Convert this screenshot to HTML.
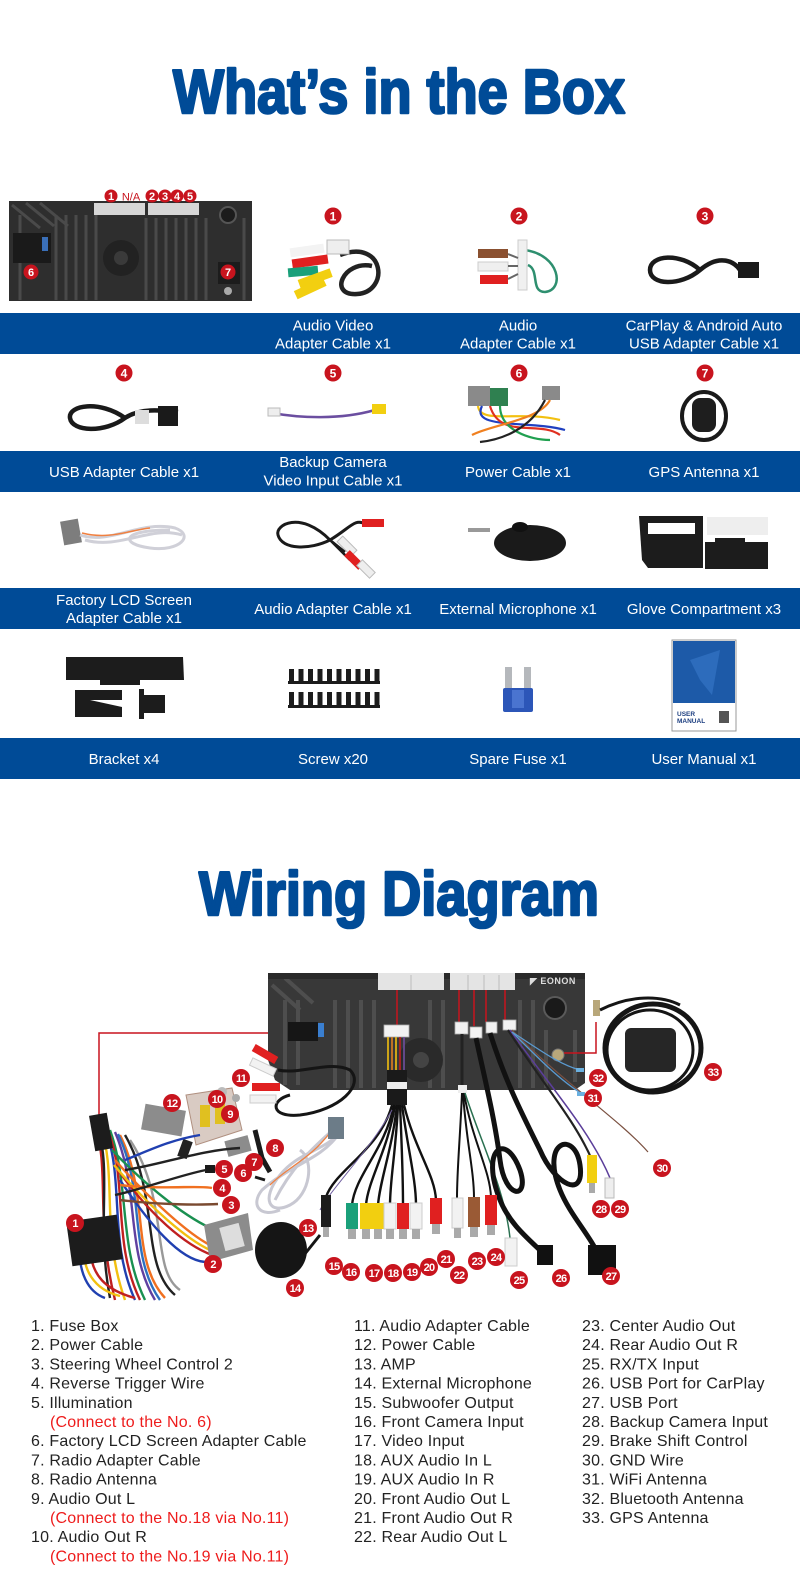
<!DOCTYPE html>
<html><head><meta charset="utf-8">
<style>
html,body{margin:0;padding:0;background:#fff;}
body{width:800px;height:1596px;overflow:hidden;}
svg{display:block;}
.t{font-family:"Liberation Sans",Arial,sans-serif;}
</style></head>
<body>
<svg width="800" height="1596" viewBox="0 0 800 1596" xmlns="http://www.w3.org/2000/svg" class="t">
<rect width="800" height="1596" fill="#fff"/>

<!-- ===== TITLES ===== -->
<text x="399" y="113" text-anchor="middle" font-size="62" font-weight="bold" fill="#004b97" stroke="#004b97" stroke-width="2.6" stroke-linejoin="round" textLength="452" lengthAdjust="spacingAndGlyphs">What’s in the Box</text>
<text x="399" y="915" text-anchor="middle" font-size="62" font-weight="bold" fill="#004b97" stroke="#004b97" stroke-width="2.6" stroke-linejoin="round" textLength="400" lengthAdjust="spacingAndGlyphs">Wiring Diagram</text>

<!-- ===== BLUE BANDS ===== -->
<g fill="#004b97">
<rect x="0" y="313" width="800" height="41"/>
<rect x="0" y="451" width="800" height="41"/>
<rect x="0" y="588" width="800" height="41"/>
<rect x="0" y="738" width="800" height="41"/>
</g>
<g fill="#fff" font-size="15" text-anchor="middle">
<text x="333" y="330.5">Audio Video</text>
<text x="333" y="348.5">Adapter Cable x1</text>
<text x="518" y="330.5">Audio</text>
<text x="518" y="348.5">Adapter Cable x1</text>
<text x="704" y="330.5">CarPlay &amp; Android Auto</text>
<text x="704" y="348.5">USB Adapter Cable x1</text>

<text x="124" y="477">USB Adapter Cable x1</text>
<text x="333" y="467">Backup Camera</text>
<text x="333" y="485.5">Video Input Cable x1</text>
<text x="518" y="477">Power Cable x1</text>
<text x="704" y="477">GPS Antenna x1</text>

<text x="124" y="605">Factory LCD Screen</text>
<text x="124" y="623">Adapter Cable x1</text>
<text x="333" y="614">Audio Adapter Cable x1</text>
<text x="518" y="614">External Microphone x1</text>
<text x="704" y="614">Glove Compartment x3</text>

<text x="124" y="764">Bracket x4</text>
<text x="333" y="764">Screw x20</text>
<text x="518" y="764">Spare Fuse x1</text>
<text x="704" y="764">User Manual x1</text>
</g>

<!-- ===== BOX ITEM NUMBERS ===== -->
<g fill="#c8141e">
<circle cx="333" cy="216" r="8.5"/><circle cx="519" cy="216" r="8.5"/><circle cx="705" cy="216" r="8.5"/>
<circle cx="124" cy="373" r="8.5"/><circle cx="333" cy="373" r="8.5"/><circle cx="519" cy="373" r="8.5"/><circle cx="705" cy="373" r="8.5"/>
</g>
<g fill="#fff" font-size="12" font-weight="bold" text-anchor="middle">
<text x="333" y="220.5">1</text><text x="519" y="220.5">2</text><text x="705" y="220.5">3</text>
<text x="124" y="377.5">4</text><text x="333" y="377.5">5</text><text x="519" y="377.5">6</text><text x="705" y="377.5">7</text>
</g>

<!-- ===== Head unit (box section) ===== -->
<g>
<rect x="9" y="201" width="243" height="100" fill="#2e2e2e"/>
<g stroke="#4a4a4a" stroke-width="3">
<line x1="20" y1="215" x2="20" y2="300"/><line x1="56" y1="215" x2="56" y2="300"/><line x1="66" y1="215" x2="66" y2="300"/>
<line x1="76" y1="215" x2="76" y2="300"/><line x1="86" y1="215" x2="86" y2="300"/><line x1="96" y1="215" x2="96" y2="300"/>
<line x1="146" y1="218" x2="146" y2="300"/><line x1="156" y1="218" x2="156" y2="300"/><line x1="166" y1="218" x2="166" y2="300"/>
<line x1="176" y1="218" x2="176" y2="300"/><line x1="186" y1="218" x2="186" y2="300"/><line x1="196" y1="218" x2="196" y2="300"/>
<line x1="206" y1="218" x2="206" y2="300"/><line x1="244" y1="218" x2="244" y2="300"/>
<line x1="12" y1="205" x2="40" y2="228"/><line x1="26" y1="203" x2="54" y2="226"/><line x1="40" y1="203" x2="68" y2="226"/>
</g>
<rect x="94" y="203" width="51" height="12" fill="#d6d6d6"/>
<rect x="148" y="203" width="51" height="12" fill="#d6d6d6"/>
<rect x="13" y="233" width="38" height="30" fill="#1a1a1a"/>
<rect x="42" y="237" width="6" height="14" fill="#3a6fb8"/>
<circle cx="121" cy="258" r="18" fill="#222"/>
<circle cx="121" cy="258" r="7" fill="#3a3a3a"/>
<circle cx="228" cy="215" r="8" fill="#1c1c1c" stroke="#555" stroke-width="2"/>
<rect x="218" y="262" width="22" height="22" fill="#1c1c1c"/>
<circle cx="228" cy="291" r="4" fill="#aaa"/>
</g>
<g fill="#c8141e">
<circle cx="111" cy="196" r="6.5"/><circle cx="152" cy="196" r="6.5"/><circle cx="165" cy="196" r="6.5"/><circle cx="177" cy="196" r="6.5"/><circle cx="190" cy="196" r="6.5"/>
<circle cx="31" cy="272" r="7.5"/><circle cx="228" cy="272" r="7.5"/>
</g>
<g fill="#fff" font-size="11" font-weight="bold" text-anchor="middle">
<text x="111" y="200">1</text><text x="152" y="200">2</text><text x="165" y="200">3</text><text x="177" y="200">4</text><text x="190" y="200">5</text>
<text x="31" y="276">6</text><text x="228" y="276">7</text>
</g>
<text x="131" y="200.5" text-anchor="middle" font-size="11" fill="#c8141e">N/A</text>

<!-- ===== Row1 items ===== -->
<!-- AV cable -->
<g>
<path d="M340 255 C 385 238, 390 292, 357 294 C 328 296, 343 260, 372 266" fill="none" stroke="#222" stroke-width="4.5"/>
<rect x="327" y="240" width="22" height="14" fill="#eee" stroke="#bbb"/>
<g stroke-width="0">
<rect x="290" y="246" width="34" height="9" fill="#f3f3f3" transform="rotate(-8 307 250)"/>
<rect x="292" y="257" width="36" height="9" fill="#e02020" transform="rotate(-8 310 261)"/>
<rect x="288" y="267" width="30" height="9" fill="#1aa07a" transform="rotate(-5 303 271)"/>
<rect x="298" y="274" width="34" height="9" fill="#f2cf10" transform="rotate(-20 315 278)"/>
<rect x="294" y="284" width="32" height="9" fill="#f2cf10" transform="rotate(-25 310 288)"/>
</g>
</g>
<!-- Audio cable -->
<g>
<path d="M525 250 C 560 255, 565 290, 545 292 C 530 292, 540 270, 528 265" fill="none" stroke="#2e8f6f" stroke-width="2.5"/>
<rect x="518" y="240" width="9" height="50" fill="#f0f0f0" stroke="#ccc"/>
<rect x="478" y="249" width="30" height="9" fill="#8a5030"/>
<rect x="478" y="262" width="30" height="9" fill="#efefef" stroke="#ccc"/>
<rect x="480" y="275" width="28" height="9" fill="#e02020"/>
<path d="M508 254 L 518 258 M508 266 L518 266 M508 279 L 518 274" stroke="#666" stroke-width="2"/>
</g>
<!-- USB cable -->
<g fill="none" stroke="#1a1a1a" stroke-width="4.5">
<path d="M700 270 C 680 252, 650 255, 650 270 C 650 285, 680 287, 700 270 C 720 253, 735 262, 740 270"/>
</g>
<rect x="738" y="262" width="21" height="16" fill="#1a1a1a"/>

<!-- ===== Row2 items ===== -->
<g fill="none" stroke="#1a1a1a" stroke-width="4.5">
<path d="M125 418 C 100 400, 68 405, 70 418 C 72 432, 105 433, 125 418 C 140 408, 160 410, 178 412"/>
</g>
<rect x="135" y="410" width="14" height="14" fill="#ddd"/>
<rect x="158" y="406" width="20" height="20" fill="#1a1a1a"/>
<path d="M272 413 C 300 418, 340 420, 375 410" fill="none" stroke="#6b4ea0" stroke-width="2.5"/>
<rect x="268" y="408" width="12" height="8" fill="#eee" stroke="#bbb"/>
<rect x="372" y="404" width="14" height="10" fill="#f2cf10"/>
<!-- Power cable harness -->
<g>
<rect x="468" y="386" width="22" height="20" fill="#8a8a8a"/>
<rect x="490" y="388" width="18" height="18" fill="#2f8050"/>
<rect x="542" y="386" width="18" height="14" fill="#8a8a8a"/>
<g fill="none" stroke-width="2.2">
<path d="M478 406 C 480 425, 520 410, 560 420" stroke="#f2c010"/>
<path d="M482 406 C 470 430, 530 420, 565 430" stroke="#2040c0"/>
<path d="M490 406 C 500 440, 540 420, 560 435" stroke="#e03020"/>
<path d="M500 406 C 500 430, 530 440, 550 440" stroke="#20a050"/>
<path d="M550 400 C 540 420, 490 425, 472 435" stroke="#f08020"/>
<path d="M545 400 C 530 430, 500 440, 480 442" stroke="#222"/>
</g>
</g>
<!-- GPS antenna -->
<ellipse cx="704" cy="416" rx="22" ry="24" fill="none" stroke="#1a1a1a" stroke-width="4"/>
<rect x="692" y="398" width="24" height="34" rx="8" fill="#1e1e1e"/>

<!-- ===== Row3 items ===== -->
<!-- LCD adapter cable -->
<g>
<rect x="62" y="520" width="18" height="24" fill="#7d7d7d" transform="rotate(-10 71 532)"/>
<g fill="none" stroke="#d0d0d8" stroke-width="3">
<path d="M80 535 C 110 545, 140 520, 175 528 C 195 535, 180 552, 150 548 C 120 544, 120 530, 170 530"/>
<path d="M85 540 C 120 550, 150 525, 182 535"/>
</g>
<path d="M82 533 C 110 540, 130 530, 150 528" fill="none" stroke="#f08040" stroke-width="1.5"/>
</g>
<!-- Audio adapter cable row3 -->
<g>
<path d="M330 540 C 300 510, 275 525, 278 535 C 282 550, 310 550, 330 540 C 350 528, 355 518, 365 524" fill="none" stroke="#1a1a1a" stroke-width="3"/>
<path d="M330 540 L 345 552 M330 540 L 350 560" stroke="#1a1a1a" stroke-width="2.5"/>
<rect x="362" y="519" width="22" height="8" fill="#e02020"/>
<rect x="343" y="536" width="8" height="20" fill="#eee" stroke="#bbb" transform="rotate(-45 347 546)"/>
<rect x="350" y="550" width="8" height="20" fill="#e02020" transform="rotate(-45 354 560)"/>
<rect x="362" y="560" width="8" height="18" fill="#eee" stroke="#bbb" transform="rotate(-45 366 569)"/>
</g>
<!-- mic -->
<g>
<ellipse cx="530" cy="543" rx="36" ry="18" fill="#1a1a1a"/>
<ellipse cx="520" cy="527" rx="8" ry="5" fill="#111"/>
<rect x="468" y="528" width="22" height="4" fill="#999"/>
</g>
<!-- Glove compartment -->
<g>
<path d="M639 516 H703 V568 H648 L 642 560 Z" fill="#1c1c1c"/>
<rect x="648" y="523" width="47" height="11" fill="#fff"/>
<rect x="707" y="517" width="61" height="18" fill="#eeeeee"/>
<rect x="705" y="542" width="63" height="27" fill="#1c1c1c"/>
<rect x="715" y="538" width="30" height="6" fill="#1c1c1c"/>
</g>

<!-- ===== Row4 items ===== -->
<!-- bracket -->
<g fill="#1c1c1c">
<path d="M66 657 H183 L 184 680 H66 Z"/>
<rect x="100" y="680" width="40" height="5"/>
<path d="M75 690 H122 V700 H90 L 122 707 V717 H75 Z"/>
<rect x="139" y="689" width="5" height="30"/>
<rect x="144" y="695" width="21" height="18"/>
</g>
<!-- screws -->
<g fill="#1c1c1c">
<rect x="289" y="669" width="5" height="14"/><rect x="298.5" y="669" width="5" height="14"/><rect x="308" y="669" width="5" height="14"/><rect x="317.5" y="669" width="5" height="14"/><rect x="327" y="669" width="5" height="14"/>
<rect x="336.5" y="669" width="5" height="14"/><rect x="346" y="669" width="5" height="14"/><rect x="355.5" y="669" width="5" height="14"/><rect x="365" y="669" width="5" height="14"/><rect x="374.5" y="669" width="5" height="14"/>
<rect x="289" y="692" width="5" height="15"/><rect x="298.5" y="692" width="5" height="15"/><rect x="308" y="692" width="5" height="15"/><rect x="317.5" y="692" width="5" height="15"/><rect x="327" y="692" width="5" height="15"/>
<rect x="336.5" y="692" width="5" height="15"/><rect x="346" y="692" width="5" height="15"/><rect x="355.5" y="692" width="5" height="15"/><rect x="365" y="692" width="5" height="15"/><rect x="374.5" y="692" width="5" height="15"/>
<rect x="288" y="681" width="92" height="3"/><rect x="288" y="705" width="92" height="3"/>
</g>
<!-- fuse -->
<g>
<rect x="505" y="667" width="7" height="24" fill="#b5b8bc"/>
<rect x="524" y="667" width="7" height="24" fill="#b5b8bc"/>
<rect x="503" y="688" width="30" height="24" rx="2" fill="#2c56b8"/>
<rect x="512" y="690" width="12" height="18" fill="#4a74d0"/>
</g>
<!-- manual -->
<g>
<rect x="672" y="640" width="64" height="91" fill="#fff" stroke="#999" stroke-width="1"/>
<rect x="673" y="641" width="62" height="62" fill="#1d5aa8"/>
<path d="M690 660 L 720 650 L 712 695 L 700 680 Z" fill="#2d6cbc"/>
<text x="677" y="716" font-size="6.5" font-weight="bold" fill="#1d3f80">USER</text>
<text x="677" y="723" font-size="6.5" font-weight="bold" fill="#1d3f80">MANUAL</text>
<rect x="719" y="711" width="10" height="12" fill="#555"/>
</g>

<!-- ===== WIRING DIAGRAM ===== -->
<polyline points="99,1115 99,1033 293,1033" fill="none" stroke="#c8141e" stroke-width="1.5"/>

<!-- head unit -->
<g>
<path d="M268 973 H585 V1083 L 575 1090 H 290 L 275 1080 L 268 1060 Z" fill="#383838"/>
<g stroke="#4e4e4e" stroke-width="4">
<line x1="285" y1="1000" x2="285" y2="1085"/><line x1="298" y1="1000" x2="298" y2="1085"/>
<line x1="335" y1="1000" x2="335" y2="1088"/><line x1="348" y1="1000" x2="348" y2="1088"/><line x1="361" y1="1000" x2="361" y2="1088"/>
<line x1="374" y1="1000" x2="374" y2="1088"/><line x1="430" y1="1000" x2="430" y2="1088"/><line x1="443" y1="1000" x2="443" y2="1088"/>
<line x1="520" y1="1000" x2="520" y2="1088"/><line x1="533" y1="1000" x2="533" y2="1088"/><line x1="546" y1="1030" x2="546" y2="1088"/><line x1="575" y1="1030" x2="575" y2="1082"/>
<line x1="272" y1="985" x2="300" y2="1010"/><line x1="285" y1="978" x2="313" y2="1003"/>
</g>
<rect x="268" y="973" width="317" height="6" fill="#2a2a2a"/>
<rect x="378" y="973" width="66" height="17" fill="#e4e4e4"/>
<rect x="450" y="973" width="65" height="17" fill="#e4e4e4"/>
<g stroke="#bbb" stroke-width="1"><line x1="411" y1="975" x2="411" y2="990"/><line x1="468" y1="975" x2="468" y2="990"/><line x1="484" y1="975" x2="484" y2="990"/><line x1="499" y1="975" x2="499" y2="990"/></g>
<text x="530" y="984" font-size="9" font-weight="bold" fill="#ddd" letter-spacing="0.5">◤ EONON</text>
<circle cx="421" cy="1060" r="22" fill="#2a2a2a"/>
<circle cx="421" cy="1060" r="8" fill="#444"/>
<rect x="288" y="1022" width="30" height="19" fill="#161616"/>
<rect x="318" y="1023" width="6" height="14" fill="#3a7fd0"/>
<circle cx="555" cy="1008" r="11" fill="#1a1a1a" stroke="#5a5a5a" stroke-width="2"/>
<circle cx="558" cy="1055" r="6" fill="#b8a77a" stroke="#777"/>
<g stroke="#c8141e" stroke-width="1.5">
<line x1="397" y1="990" x2="397" y2="1025"/><line x1="459" y1="990" x2="459" y2="1022"/><line x1="474" y1="990" x2="474" y2="1026"/>
<line x1="486" y1="990" x2="486" y2="1022"/><line x1="505" y1="990" x2="505" y2="1020"/>
</g>
<polyline points="564,1053 596,1053 596,1022" fill="none" stroke="#c8141e" stroke-width="1.5"/>
<g fill="#f2f2f2" stroke="#aaa" stroke-width="0.8">
<rect x="384" y="1025" width="25" height="12"/>
<rect x="455" y="1022" width="13" height="12"/><rect x="470" y="1027" width="12" height="11"/><rect x="486" y="1022" width="11" height="11"/><rect x="503" y="1020" width="13" height="10"/>
</g>
<rect x="593" y="1000" width="7" height="16" fill="#b8a77a"/>
</g>

<!-- central bundle -->
<g fill="none">
<g stroke-width="1.6">
<path d="M388 1037 V1070" stroke="#f2c010"/><path d="M392 1037 V1070" stroke="#e08020"/><path d="M396 1037 V1070" stroke="#f2c010"/>
<path d="M400 1037 V1070" stroke="#c02020"/><path d="M404 1037 V1070" stroke="#7050a0"/>
</g>
<rect x="387" y="1070" width="20" height="35" fill="#1a1a1a"/>
<rect x="387" y="1082" width="20" height="7" fill="#eee" stroke="none"/>
<g stroke="#111" stroke-width="2.4">
<path d="M392 1105 C 380 1150, 335 1170, 326 1197"/>
<path d="M394 1105 C 385 1150, 355 1175, 352 1205"/>
<path d="M395 1105 C 388 1150, 368 1180, 366 1205"/>
<path d="M397 1105 C 392 1150, 380 1180, 378 1205"/>
<path d="M398 1105 C 396 1150, 390 1180, 390 1205"/>
<path d="M400 1105 C 402 1150, 403 1180, 403 1205"/>
<path d="M402 1105 C 408 1150, 416 1180, 416 1205"/>
<path d="M404 1105 C 415 1150, 435 1175, 436 1200"/>
</g>
<path d="M392 1110 C 370 1150, 330 1190, 320 1210" stroke="#7060a0" stroke-width="1"/>
</g>
<g>
<rect x="321" y="1195" width="10" height="32" fill="#1c1c1c"/><rect x="323" y="1227" width="6" height="10" fill="#aaa"/>
<rect x="346" y="1203" width="12" height="26" fill="#1aa07a"/><rect x="348" y="1229" width="8" height="10" fill="#aaa"/>
<rect x="360" y="1203" width="12" height="26" fill="#f2cf10"/><rect x="362" y="1229" width="8" height="10" fill="#aaa"/>
<rect x="372" y="1203" width="12" height="26" fill="#f2cf10"/><rect x="374" y="1229" width="8" height="10" fill="#aaa"/>
<rect x="384" y="1203" width="12" height="26" fill="#f2f2f2" stroke="#ccc"/><rect x="386" y="1229" width="8" height="10" fill="#aaa"/>
<rect x="397" y="1203" width="12" height="26" fill="#e02020"/><rect x="399" y="1229" width="8" height="10" fill="#aaa"/>
<rect x="410" y="1203" width="12" height="26" fill="#f2f2f2" stroke="#ccc"/><rect x="412" y="1229" width="8" height="10" fill="#aaa"/>
<rect x="430" y="1198" width="12" height="26" fill="#e02020"/><rect x="432" y="1224" width="8" height="10" fill="#aaa"/>
</g>

<!-- right group wires -->
<g fill="none">
<path d="M462 1034 V1085" stroke="#222" stroke-width="3"/>
<rect x="458" y="1085" width="9" height="8" fill="#eee"/>
<g stroke="#111" stroke-width="2">
<path d="M462 1093 C 460 1140, 457 1170, 457 1198"/>
<path d="M463 1093 C 466 1140, 474 1170, 474 1198"/>
<path d="M464 1093 C 472 1140, 490 1170, 491 1197"/>
</g>
<path d="M465 1093 C 480 1140, 505 1190, 510 1238" stroke="#2a7050" stroke-width="1.5"/>
<path d="M476 1038 C 485 1080, 495 1120, 500 1160 C 505 1200, 530 1200, 520 1170 C 505 1130, 480 1150, 500 1200 C 510 1225, 530 1240, 545 1255" stroke="#111" stroke-width="5"/>
<path d="M490 1033 C 505 1080, 520 1110, 540 1150 C 555 1185, 585 1200, 580 1165 C 575 1130, 540 1140, 560 1190 C 570 1215, 590 1235, 600 1258" stroke="#111" stroke-width="5"/>
<path d="M508 1030 C 540 1080, 575 1120, 592 1160" stroke="#222" stroke-width="2.2"/>
<path d="M510 1030 C 545 1080, 590 1130, 610 1178" stroke="#5b3e9a" stroke-width="1.5"/>
<path d="M512 1030 C 560 1080, 620 1120, 648 1152" stroke="#7a5040" stroke-width="1.2"/>
<path d="M512 1032 C 540 1060, 560 1080, 582 1094" stroke="#5a9ad0" stroke-width="1.3"/>
<path d="M512 1032 C 540 1050, 560 1065, 580 1070" stroke="#5a9ad0" stroke-width="1.3"/>
</g>
<g>
<rect x="452" y="1198" width="11" height="30" fill="#f2f2f2" stroke="#ccc"/><rect x="454" y="1228" width="7" height="10" fill="#aaa"/>
<rect x="468" y="1197" width="12" height="30" fill="#9a5a35"/><rect x="470" y="1227" width="8" height="10" fill="#aaa"/>
<rect x="485" y="1195" width="12" height="30" fill="#e02020"/><rect x="487" y="1225" width="8" height="10" fill="#aaa"/>
<rect x="505" y="1238" width="12" height="28" fill="#f2f2f2" stroke="#ccc"/>
<rect x="537" y="1245" width="16" height="20" fill="#111"/>
<rect x="588" y="1245" width="28" height="30" fill="#111"/>
<rect x="587" y="1155" width="10" height="28" fill="#f2cf10"/><rect x="589" y="1183" width="6" height="10" fill="#aaa"/>
<rect x="605" y="1178" width="9" height="20" fill="#eee" stroke="#bbb"/>
<rect x="577" y="1092" width="8" height="4" fill="#6ab0e0"/><rect x="576" y="1068" width="8" height="4" fill="#6ab0e0"/>
</g>

<!-- GPS -->
<g fill="none" stroke="#151515">
<ellipse cx="653" cy="1048" rx="48" ry="44" stroke-width="5"/>
<ellipse cx="650" cy="1050" rx="43" ry="40" stroke-width="3"/>
<path d="M600 1010 C 630 995, 660 995, 680 1005" stroke-width="3"/>
</g>
<rect x="625" y="1028" width="51" height="44" rx="6" fill="#262626"/>

<!-- Audio adapter 11 -->
<g>
<path d="M278 1070 C 300 1075, 330 1060, 350 1070 C 365 1085, 340 1110, 300 1115 C 270 1118, 270 1100, 290 1095" fill="none" stroke="#151515" stroke-width="3"/>
<rect x="252" y="1050" width="26" height="8" fill="#e02020" transform="rotate(30 265 1054)"/>
<rect x="250" y="1063" width="26" height="8" fill="#f2f2f2" stroke="#ccc" transform="rotate(25 263 1067)"/>
<rect x="252" y="1083" width="28" height="8" fill="#e02020"/>
<rect x="250" y="1095" width="26" height="8" fill="#f2f2f2" stroke="#ccc"/>
</g>
<!-- AMP -->
<g>
<path d="M186 1095 L 232 1088 L 242 1130 L 196 1145 Z" fill="#d9cbc3" stroke="#b09080"/>
<rect x="200" y="1105" width="10" height="22" fill="#e0c020"/>
<rect x="215" y="1102" width="10" height="22" fill="#e0c020"/>
<circle cx="222" cy="1092" r="5" fill="#bbb"/><circle cx="236" cy="1098" r="4" fill="#aaa"/>
<rect x="180" y="1140" width="10" height="18" fill="#222" transform="rotate(20 185 1149)"/>
</g>
<rect x="143" y="1107" width="41" height="26" fill="#8c8c8c" transform="rotate(10 163 1120)"/>
<path d="M255 1130 L 262 1158 L 270 1172" fill="none" stroke="#1a1a1a" stroke-width="5"/>
<rect x="226" y="1138" width="24" height="16" fill="#8c8c8c" transform="rotate(-15 238 1146)"/>
<!-- LCD cable coil -->
<g fill="none" stroke="#c8c8d2" stroke-width="3">
<path d="M340 1130 C 330 1150, 300 1150, 280 1175 C 260 1200, 270 1215, 290 1205 C 310 1195, 315 1160, 300 1150"/>
<path d="M338 1135 C 320 1160, 290 1165, 262 1190 C 250 1205, 260 1218, 280 1210"/>
<path d="M335 1128 C 310 1150, 290 1170, 275 1200"/>
</g>
<path d="M332 1130 C 310 1160, 290 1165, 270 1185" fill="none" stroke="#f08040" stroke-width="1.3"/>
<rect x="328" y="1117" width="16" height="22" fill="#6c7c88"/>
<rect x="205" y="1165" width="10" height="8" fill="#1a1a1a"/>
<path d="M255 1177 L 265 1180" stroke="#1a1a1a" stroke-width="3"/>

<!-- left harness -->
<g fill="none" stroke-width="2.4">
<path d="M95 1125 C 110 1170, 95 1220, 115 1300" stroke="#c02020"/>
<path d="M100 1125 C 118 1175, 100 1230, 125 1300" stroke="#f2c010"/>
<path d="M105 1128 C 125 1180, 108 1240, 135 1300" stroke="#2040b0"/>
<path d="M110 1130 C 130 1185, 118 1245, 145 1300" stroke="#1a9050"/>
<path d="M115 1132 C 140 1190, 125 1250, 155 1300" stroke="#6040a0"/>
<path d="M120 1135 C 150 1195, 130 1260, 165 1298" stroke="#f07020"/>
<path d="M125 1135 C 160 1195, 140 1265, 175 1295" stroke="#222"/>
<path d="M130 1140 C 170 1200, 150 1270, 180 1290" stroke="#999"/>
<path d="M98 1128 C 112 1175, 96 1225, 110 1298" stroke="#222"/>
<path d="M108 1130 C 128 1182, 112 1242, 140 1300" stroke="#c02020"/>
<path d="M118 1134 C 146 1192, 128 1255, 160 1300" stroke="#2e70c0"/>
<path d="M112 1150 C 150 1190, 190 1220, 215 1230" stroke="#1a9050"/>
<path d="M115 1160 C 150 1200, 190 1235, 210 1245" stroke="#f07020"/>
<path d="M118 1170 C 150 1215, 185 1245, 212 1255" stroke="#c02020"/>
<path d="M120 1180 C 150 1225, 180 1260, 205 1262" stroke="#2040b0"/>
<path d="M114 1165 C 150 1208, 188 1240, 210 1250" stroke="#f2c010"/>
<path d="M125 1160 C 150 1150, 170 1140, 200 1135" stroke="#2040b0"/>
<path d="M125 1170 C 160 1165, 200 1150, 240 1148" stroke="#222"/>
<path d="M120 1185 C 160 1190, 200 1185, 212 1188" stroke="#f07020"/>
<path d="M120 1200 C 160 1205, 200 1205, 218 1204" stroke="#7a4a30"/>
<path d="M115 1195 C 140 1190, 180 1175, 206 1170" stroke="#222"/>
<path d="M85 1240 C 80 1270, 95 1290, 120 1296" stroke="#f2c010"/>
<path d="M90 1250 C 92 1275, 105 1290, 135 1298" stroke="#c02020"/>
<path d="M80 1245 C 78 1272, 88 1292, 105 1298" stroke="#2040b0"/>
</g>
<rect x="92" y="1114" width="18" height="36" fill="#1c1c1c" transform="rotate(-10 101 1132)"/>
<rect x="69" y="1218" width="51" height="45" fill="#1c1c1c" transform="rotate(-8 94 1240)"/>
<path d="M204 1225 L 248 1213 L 253 1250 L 210 1262 Z" fill="#8c8c8c"/>
<rect x="222" y="1225" width="20" height="24" fill="#ddd" transform="rotate(-15 232 1237)"/>
<ellipse cx="281" cy="1250" rx="26" ry="28" fill="#151515"/>
<path d="M300 1260 L 320 1235" stroke="#151515" stroke-width="3"/>

<!-- number badges wiring -->
<g fill="#c8141e">
<circle cx="75" cy="1223" r="9"/><circle cx="213" cy="1264" r="9"/><circle cx="231" cy="1205" r="9"/><circle cx="222" cy="1188" r="9"/>
<circle cx="224" cy="1169" r="9"/><circle cx="243" cy="1173" r="9"/><circle cx="254" cy="1162" r="9"/><circle cx="275" cy="1148" r="9"/>
<circle cx="230" cy="1114" r="9"/><circle cx="217" cy="1099" r="9"/><circle cx="241" cy="1078" r="9"/><circle cx="172" cy="1103" r="9"/>
<circle cx="308" cy="1228" r="9"/><circle cx="295" cy="1288" r="9"/><circle cx="334" cy="1266" r="9"/><circle cx="351" cy="1272" r="9"/>
<circle cx="374" cy="1273" r="9"/><circle cx="393" cy="1273" r="9"/><circle cx="412" cy="1272" r="9"/><circle cx="429" cy="1267" r="9"/>
<circle cx="446" cy="1259" r="9"/><circle cx="459" cy="1275" r="9"/><circle cx="477" cy="1261" r="9"/><circle cx="496" cy="1257" r="9"/>
<circle cx="519" cy="1280" r="9"/><circle cx="561" cy="1278" r="9"/><circle cx="611" cy="1276" r="9"/><circle cx="601" cy="1209" r="9"/>
<circle cx="620" cy="1209" r="9"/><circle cx="662" cy="1168" r="9"/><circle cx="593" cy="1098" r="9"/><circle cx="598" cy="1078" r="9"/>
<circle cx="713" cy="1072" r="9"/>
</g>
<g fill="#fff" font-size="11" font-weight="bold" text-anchor="middle" letter-spacing="-0.8">
<text x="75" y="1227">1</text><text x="213" y="1268">2</text><text x="231" y="1209">3</text><text x="222" y="1192">4</text>
<text x="224" y="1173">5</text><text x="243" y="1177">6</text><text x="254" y="1166">7</text><text x="275" y="1152">8</text>
<text x="230" y="1118">9</text><text x="217" y="1103">10</text><text x="241" y="1082">11</text><text x="172" y="1107">12</text>
<text x="308" y="1232">13</text><text x="295" y="1292">14</text><text x="334" y="1270">15</text><text x="351" y="1276">16</text>
<text x="374" y="1277">17</text><text x="393" y="1277">18</text><text x="412" y="1276">19</text><text x="429" y="1271">20</text>
<text x="446" y="1263">21</text><text x="459" y="1279">22</text><text x="477" y="1265">23</text><text x="496" y="1261">24</text>
<text x="519" y="1284">25</text><text x="561" y="1282">26</text><text x="611" y="1280">27</text><text x="601" y="1213">28</text>
<text x="620" y="1213">29</text><text x="662" y="1172">30</text><text x="593" y="1102">31</text><text x="598" y="1082">32</text>
<text x="713" y="1076">33</text>
</g>

<!-- ===== LIST ===== -->
<g font-size="16" letter-spacing="0.2" fill="#222">
<text x="31" y="1331">1. Fuse Box</text>
<text x="31" y="1350.2">2. Power Cable</text>
<text x="31" y="1369.4">3. Steering Wheel Control 2</text>
<text x="31" y="1388.6">4. Reverse Trigger Wire</text>
<text x="31" y="1407.8">5. Illumination</text>
<text x="50" y="1427" fill="#ee1c1c">(Connect to the No. 6)</text>
<text x="31" y="1446.2">6. Factory LCD Screen Adapter Cable</text>
<text x="31" y="1465.4">7. Radio Adapter Cable</text>
<text x="31" y="1484.6">8. Radio Antenna</text>
<text x="31" y="1503.8">9. Audio Out L</text>
<text x="50" y="1523" fill="#ee1c1c">(Connect to the No.18 via No.11)</text>
<text x="31" y="1542.2">10. Audio Out R</text>
<text x="50" y="1561.4" fill="#ee1c1c">(Connect to the No.19 via No.11)</text>

<text x="354" y="1331">11. Audio Adapter Cable</text>
<text x="354" y="1350.2">12. Power Cable</text>
<text x="354" y="1369.4">13. AMP</text>
<text x="354" y="1388.6">14. External Microphone</text>
<text x="354" y="1407.8">15. Subwoofer Output</text>
<text x="354" y="1427">16. Front Camera Input</text>
<text x="354" y="1446.2">17. Video Input</text>
<text x="354" y="1465.4">18. AUX Audio In L</text>
<text x="354" y="1484.6">19. AUX Audio In R</text>
<text x="354" y="1503.8">20. Front Audio Out L</text>
<text x="354" y="1523">21. Front Audio Out R</text>
<text x="354" y="1542.2">22. Rear Audio Out L</text>

<text x="582" y="1331">23. Center Audio Out</text>
<text x="582" y="1350.2">24. Rear Audio Out R</text>
<text x="582" y="1369.4">25. RX/TX Input</text>
<text x="582" y="1388.6">26. USB Port for CarPlay</text>
<text x="582" y="1407.8">27. USB Port</text>
<text x="582" y="1427">28. Backup Camera Input</text>
<text x="582" y="1446.2">29. Brake Shift Control</text>
<text x="582" y="1465.4">30. GND Wire</text>
<text x="582" y="1484.6">31. WiFi Antenna</text>
<text x="582" y="1503.8">32. Bluetooth Antenna</text>
<text x="582" y="1523">33. GPS Antenna</text>
</g>
</svg>
</body></html>
